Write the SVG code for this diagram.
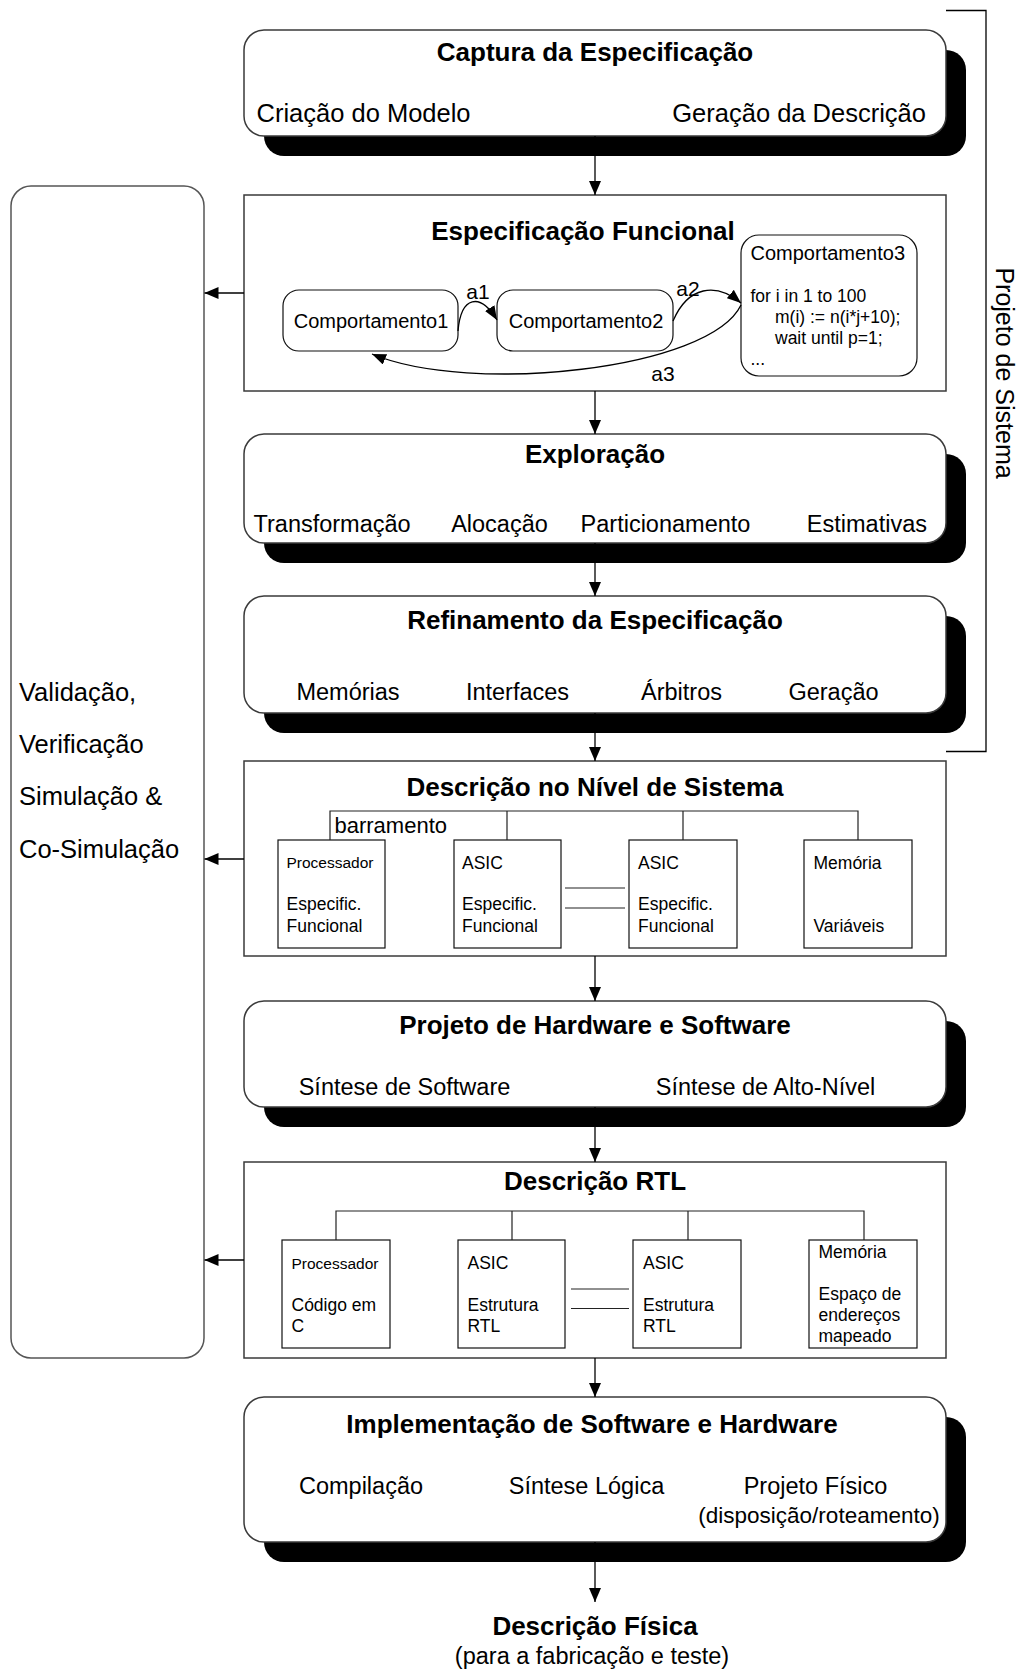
<svg xmlns="http://www.w3.org/2000/svg" width="1021" height="1669" viewBox="0 0 1021 1669">
<style>
text{font-family:"Liberation Sans",Arial,Helvetica,sans-serif;fill:#000}
.t{font-weight:bold;font-size:26px;text-anchor:middle}
.ic{font-size:25.5px}
.it{font-size:23.5px;text-anchor:middle}
.its{font-size:23.5px;text-anchor:start}
.ite{font-size:23.5px;text-anchor:end}
.lv{font-size:25.5px}
.cp{font-size:20px}
.cpm{font-size:20px;text-anchor:middle}
.lbl{font-size:21px;text-anchor:middle}
.code{font-size:17.5px}
.sm{font-size:17.5px}
.xs{font-size:15.5px}
.box{fill:#fff;stroke:#3a3a3a;stroke-width:1.5}
.shadow{fill:#000}
.inner{fill:#fff;stroke:#111;stroke-width:1.2}
.ln{fill:none;stroke:#000;stroke-width:1.3}
.bus{fill:none;stroke:#222;stroke-width:1.2}
</style>
<defs>
<marker id="arr" viewBox="0 0 14 12" refX="14" refY="6" markerWidth="14" markerHeight="12" markerUnits="userSpaceOnUse" orient="auto">
<path d="M0,0 L14,6 L0,12 z" fill="#000"/>
</marker>
<marker id="arrS" viewBox="0 0 14 11" refX="14" refY="5.5" markerWidth="14" markerHeight="11" markerUnits="userSpaceOnUse" orient="auto">
<path d="M0,0 L14,5.5 L0,11 z" fill="#000"/>
</marker>
</defs>

<g id="n-projeto-sistema">
<path class="ln" d="M946,10.5 H986 V751.5 H946"/>
<text style="font-size:25px;text-anchor:middle" transform="translate(996,373) rotate(90)">Projeto de Sistema</text>
</g>

<g id="n-validacao">
<rect class="box" x="11" y="186" width="193" height="1172" rx="20" style="stroke:#555"/>
<text class="lv" x="19" y="701">Validação,</text>
<text class="lv" x="19" y="753">Verificação</text>
<text class="lv" x="19" y="805">Simulação &amp;</text>
<text class="lv" x="19" y="858">Co-Simulação</text>
</g>

<g id="n-captura">
<rect class="shadow" x="264" y="50" width="702" height="106" rx="20"/>
<rect class="box" x="244" y="30" width="702" height="106" rx="20"/>
<text class="t" x="595" y="60.5">Captura da Especificação</text>
<text class="ic" x="256.5" y="122">Criação do Modelo</text>
<text class="ic" x="926" y="122" style="text-anchor:end">Geração da Descrição</text>
</g>

<g id="n-especificacao-funcional">
<rect class="box" x="244" y="195" width="702" height="196"/>
<text class="t" x="583" y="239.5">Especificação Funcional</text>
</g>
<g id="n-comportamento1">
<rect class="inner" x="283" y="290" width="175" height="61" rx="16"/>
<text class="cpm" x="371" y="327.5">Comportamento1</text>
</g>
<g id="n-comportamento2">
<rect class="inner" x="497" y="290" width="176" height="61" rx="16"/>
<text class="cpm" x="586" y="327.5">Comportamento2</text>
</g>
<g id="n-comportamento3">
<rect class="inner" x="741" y="235" width="176" height="141" rx="18"/>
<text class="cp" x="750.5" y="259.5">Comportamento3</text>
<text class="code" x="750.5" y="302">for i in 1 to 100</text>
<text class="code" x="775" y="322.5">m(i) := n(i*j+10);</text>
<text class="code" x="775" y="344">wait until p=1;</text>
<text class="code" x="750.5" y="365">...</text>
</g>

<g id="n-exploracao">
<rect class="shadow" x="264" y="454" width="702" height="109" rx="20"/>
<rect class="box" x="244" y="434" width="702" height="109" rx="20"/>
<text class="t" x="595" y="463">Exploração</text>
<text class="its" x="253.5" y="532">Transformação</text>
<text class="it" x="499.5" y="532">Alocação</text>
<text class="it" x="665.5" y="532">Particionamento</text>
<text class="ite" x="927" y="532">Estimativas</text>
</g>

<g id="n-refinamento">
<rect class="shadow" x="264" y="616" width="702" height="117" rx="20"/>
<rect class="box" x="244" y="596" width="702" height="117" rx="20"/>
<text class="t" x="595" y="629">Refinamento da Especificação</text>
<text class="it" x="348" y="699.5">Memórias</text>
<text class="it" x="517.5" y="699.5">Interfaces</text>
<text class="it" x="681.5" y="699.5">Árbitros</text>
<text class="it" x="833.5" y="699.5">Geração</text>
</g>

<g id="n-descricao-sistema">
<rect class="box" x="244" y="761" width="702" height="195"/>
<text class="t" x="595" y="796">Descrição no Nível de Sistema</text>
<text x="334.5" y="833" style="font-size:22px">barramento</text>
</g>
<g id="n-sis-processador">
<rect class="inner" x="278" y="840" width="107" height="108"/>
<text class="xs" x="286.5" y="868">Processador</text>
<text class="sm" x="286.5" y="910">Especific.</text>
<text class="sm" x="286.5" y="931.5">Funcional</text>
</g>
<g id="n-sis-asic1">
<rect class="inner" x="454" y="840" width="107" height="108"/>
<text class="sm" x="462" y="868.5">ASIC</text>
<text class="sm" x="462" y="910">Especific.</text>
<text class="sm" x="462" y="931.5">Funcional</text>
</g>
<g id="n-sis-asic2">
<rect class="inner" x="629" y="840" width="108" height="108"/>
<text class="sm" x="638" y="868.5">ASIC</text>
<text class="sm" x="638" y="910">Especific.</text>
<text class="sm" x="638" y="931.5">Funcional</text>
</g>
<g id="n-sis-memoria">
<rect class="inner" x="804" y="840" width="108" height="108"/>
<text class="sm" x="813.5" y="868.5">Memória</text>
<text class="sm" x="813.5" y="931.5">Variáveis</text>
</g>

<g id="n-projeto-hwsw">
<rect class="shadow" x="264" y="1021" width="702" height="106" rx="20"/>
<rect class="box" x="244" y="1001" width="702" height="106" rx="20"/>
<text class="t" x="595" y="1033.5">Projeto de Hardware e Software</text>
<text class="it" x="404.5" y="1094.5">Síntese de Software</text>
<text class="it" x="765.5" y="1094.5">Síntese de Alto-Nível</text>
</g>

<g id="n-descricao-rtl">
<rect class="box" x="244" y="1162" width="702" height="196"/>
<text class="t" x="595" y="1190">Descrição RTL</text>
</g>
<g id="n-rtl-processador">
<rect class="inner" x="282" y="1240" width="108" height="108"/>
<text class="xs" x="291.5" y="1269">Processador</text>
<text class="sm" x="291.5" y="1310.5">Código em</text>
<text class="sm" x="291.5" y="1332">C</text>
</g>
<g id="n-rtl-asic1">
<rect class="inner" x="458" y="1240" width="107" height="108"/>
<text class="sm" x="467.5" y="1269">ASIC</text>
<text class="sm" x="467.5" y="1310.5">Estrutura</text>
<text class="sm" x="467.5" y="1332">RTL</text>
</g>
<g id="n-rtl-asic2">
<rect class="inner" x="633" y="1240" width="108" height="108"/>
<text class="sm" x="643" y="1269">ASIC</text>
<text class="sm" x="643" y="1310.5">Estrutura</text>
<text class="sm" x="643" y="1332">RTL</text>
</g>
<g id="n-rtl-memoria">
<rect class="inner" x="809" y="1240" width="108" height="108"/>
<text class="sm" x="818.5" y="1258">Memória</text>
<text class="sm" x="818.5" y="1300">Espaço de</text>
<text class="sm" x="818.5" y="1321">endereços</text>
<text class="sm" x="818.5" y="1341.5">mapeado</text>
</g>

<g id="n-implementacao">
<rect class="shadow" x="264" y="1417" width="702" height="145" rx="20"/>
<rect class="box" x="244" y="1397" width="702" height="145" rx="20"/>
<text class="t" x="592" y="1433">Implementação de Software e Hardware</text>
<text class="it" x="361" y="1494">Compilação</text>
<text class="it" x="586.5" y="1494">Síntese Lógica</text>
<text class="it" x="815.5" y="1494">Projeto Físico</text>
<text x="819" y="1523" style="font-size:22.5px;text-anchor:middle">(disposição/roteamento)</text>
</g>

<g id="n-descricao-fisica">
<text class="t" x="595" y="1635">Descrição Física</text>
<text class="it" x="592" y="1664">(para a fabricação e teste)</text>
</g>

<g id="connectors">
<line class="ln" x1="595" y1="136" x2="595" y2="195" marker-end="url(#arr)"/>
<line class="ln" x1="595" y1="391" x2="595" y2="434" marker-end="url(#arr)"/>
<line class="ln" x1="595" y1="543" x2="595" y2="596" marker-end="url(#arr)"/>
<line class="ln" x1="595" y1="713" x2="595" y2="761" marker-end="url(#arr)"/>
<line class="ln" x1="595" y1="956" x2="595" y2="1001" marker-end="url(#arr)"/>
<line class="ln" x1="595" y1="1107" x2="595" y2="1162" marker-end="url(#arr)"/>
<line class="ln" x1="595" y1="1358" x2="595" y2="1397" marker-end="url(#arr)"/>
<line class="ln" x1="595" y1="1542" x2="595" y2="1602" marker-end="url(#arr)"/>
<line class="ln" x1="244" y1="293" x2="204.5" y2="293" marker-end="url(#arr)"/>
<line class="ln" x1="244" y1="859" x2="204.5" y2="859" marker-end="url(#arr)"/>
<line class="ln" x1="244" y1="1260" x2="204.5" y2="1260" marker-end="url(#arr)"/>
<path class="ln" d="M458,331 C461,296 480,292 497,320" marker-end="url(#arrS)"/>
<text class="lbl" x="478" y="299">a1</text>
<path class="ln" d="M673,321 C688,286 716,282 741,303" marker-end="url(#arrS)"/>
<text class="lbl" x="688" y="296">a2</text>
<path class="ln" d="M741,305 C710,370 470,395 372,354" marker-end="url(#arrS)"/>
<text class="lbl" x="663" y="381">a3</text>
<path class="bus" d="M330,840 V811 H858 V840 M507,811 V840 M683,811 V840"/>
<path class="bus" d="M565,888 H625 M565,908 H625"/>
<path class="bus" d="M336,1240 V1211 H864 V1240 M512,1211 V1240 M688,1211 V1240"/>
<path class="bus" d="M571,1289 H629 M571,1308.5 H629"/>
</g>
</svg>
